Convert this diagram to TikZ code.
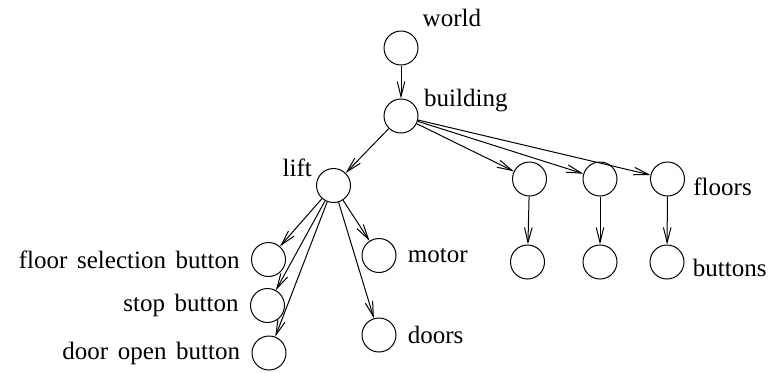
\documentclass[tikz,border=0pt]{standalone}
\usepackage{fontspec}
\setmainfont{Liberation Serif}[WordSpace=1.55]
\usetikzlibrary{arrows.meta}
\begin{document}
\begin{tikzpicture}[
    x=0.5pt, y=-0.5pt,
    every node/.style={font=\fontsize{12.5}{15}\selectfont},
    every label/.style={inner sep=2pt},
    label distance=3.5pt,
    obj/.style={circle, draw, line width=0.5pt, minimum size=17pt, inner sep=0pt},
    link/.style={draw, line width=0.5pt, -{Straight Barb[length=7.5pt, width=3.8pt]}}
]
\useasboundingbox (0,0) rectangle (771,372);
% top of the tree
\node[obj, label=above right:world] (world) at (401,48) {};
\node[obj, label={[anchor=west]40:building}] (building) at (401,116) {};
\node[obj, label={[anchor=east]135:lift}] (lift) at (333.5,185.5) {};
% floors and their buttons
\node[obj] (floorA) at (529.5,179) {};
\node[obj] (floorB) at (600,179) {};
\node[obj, label={[shift={(-1.5pt,-4pt)}]right:floors}] (floorC) at (667.5,179) {};
\node[obj] (btnA) at (527.5,262) {};
\node[obj] (btnB) at (600,262) {};
\node[obj, label={[shift={(-1.5pt,-3pt)}]right:buttons}] (btnC) at (667,262) {};
% parts of the lift
\node[obj, label=right:motor] (motor) at (379,255.5) {};
\node[obj, label=right:doors] (doors) at (379,335) {};
\node[obj, label=left:floor selection button] (selbtn) at (268.5,259.5) {};
\node[obj, label=left:stop button] (stopbtn) at (267.5,305.5) {};
\node[obj, label=left:door open button] (openbtn) at (269,353) {};

\foreach \a/\b in {world/building, building/lift, building/floorA, building/floorB, building/floorC,
    floorA/btnA, floorB/btnB, floorC/btnC,
    lift/selbtn, lift/stopbtn, lift/openbtn, lift/motor, lift/doors}
  \draw[link] (\a) -- (\b);
\end{tikzpicture}
\end{document}
